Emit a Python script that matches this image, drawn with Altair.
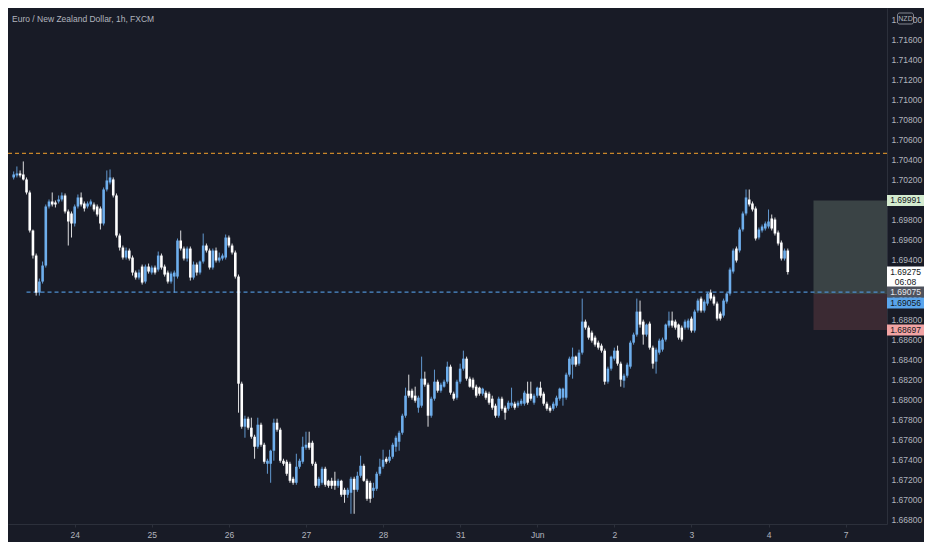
import altair as alt
import numpy as np
import pandas as pd

# EUR/NZD 1h bars left to right (bar 0 = left edge)
opens = [
    1.7022, 1.7024, 1.7026, 1.7025, 1.7020, 1.7007, 1.6969, 1.6944, 1.6907, 1.6918,
    1.6934, 1.6993, 1.6998, 1.6997, 1.6998, 1.7000, 1.7004, 1.6988, 1.6986, 1.6976,
    1.6993, 1.7002, 1.6996, 1.6993, 1.6995, 1.6995, 1.6993, 1.6991, 1.6976, 1.7010,
    1.7017, 1.7020, 1.7004, 1.6964, 1.6952, 1.6942, 1.6949, 1.6942, 1.6927, 1.6922,
    1.6933, 1.6918, 1.6933, 1.6927, 1.6932, 1.6930, 1.6944, 1.6933, 1.6927, 1.6918,
    1.6923, 1.6923, 1.6959, 1.6951, 1.6941, 1.6951, 1.6922, 1.6935, 1.6927, 1.6938,
    1.6954, 1.6949, 1.6932, 1.6949, 1.6939, 1.6941, 1.6942, 1.6962, 1.6954, 1.6947,
    1.6923, 1.6816, 1.6773, 1.6781, 1.6772, 1.6763, 1.6753, 1.6775, 1.6755, 1.6736,
    1.6736, 1.6749, 1.6777, 1.6770, 1.6739, 1.6738, 1.6736, 1.6721, 1.6717, 1.6733,
    1.6738, 1.6752, 1.6757, 1.6757, 1.6736, 1.6714, 1.6717, 1.6731, 1.6719, 1.6719,
    1.6719, 1.6714, 1.6719, 1.6710, 1.6705, 1.6707, 1.6721, 1.6710, 1.6724, 1.6734,
    1.6719, 1.6717, 1.6709, 1.6711, 1.6726, 1.6733, 1.6741, 1.6739, 1.6743, 1.6753,
    1.6758, 1.6767, 1.6784, 1.6809, 1.6809, 1.6804, 1.6792, 1.6794, 1.6821, 1.6815,
    1.6784, 1.6801, 1.6818, 1.6809, 1.6813, 1.6818, 1.6833, 1.6806, 1.6802, 1.6818,
    1.6831, 1.6841, 1.6821, 1.6820, 1.6813, 1.6812, 1.6806, 1.6807, 1.6806, 1.6801,
    1.6794, 1.6784, 1.6801, 1.6792, 1.6791, 1.6794, 1.6796, 1.6794, 1.6796, 1.6796,
    1.6806, 1.6806, 1.6797, 1.6804, 1.6812, 1.6806, 1.6796, 1.6792, 1.6791, 1.6794,
    1.6801, 1.6802, 1.6802, 1.6825, 1.6835, 1.6843, 1.6836, 1.6847, 1.6878, 1.6872,
    1.6867, 1.6862, 1.6857, 1.6854, 1.6849, 1.6818, 1.6831, 1.6841, 1.6849, 1.6836,
    1.6819, 1.6824, 1.6833, 1.6857, 1.6865, 1.6888, 1.6878, 1.6865, 1.6876, 1.6852,
    1.6838, 1.6847, 1.6850, 1.6860, 1.6874, 1.6879, 1.6878, 1.6875, 1.6872, 1.6872,
    1.6872, 1.6881, 1.6869, 1.6889, 1.6901, 1.6889, 1.6896, 1.6907, 1.6903, 1.6896,
    1.6886, 1.6884, 1.6898, 1.6906, 1.6928, 1.6951, 1.6949, 1.6970, 1.6986, 1.7000,
    1.6996, 1.6991, 1.6962, 1.6969, 1.6971, 1.6973, 1.6981, 1.6980, 1.6967, 1.6957,
    1.6941, 1.6949,
]
highs = [
    1.7028, 1.7033, 1.7029, 1.7038, 1.7022, 1.7009, 1.6970, 1.6946, 1.6921, 1.6938,
    1.6995, 1.7000, 1.7007, 1.6999, 1.7004, 1.7007, 1.7006, 1.6990, 1.6988, 1.6995,
    1.7005, 1.7007, 1.6998, 1.6998, 1.7000, 1.6997, 1.6995, 1.6993, 1.7012, 1.7029,
    1.7030, 1.7022, 1.7006, 1.6966, 1.6954, 1.6952, 1.6951, 1.6944, 1.6929, 1.6930,
    1.6935, 1.6935, 1.6936, 1.6934, 1.6934, 1.6948, 1.6946, 1.6935, 1.6929, 1.6928,
    1.6929, 1.6961, 1.6969, 1.6953, 1.6953, 1.6953, 1.6938, 1.6937, 1.6939, 1.6966,
    1.6956, 1.6951, 1.6951, 1.6952, 1.6947, 1.6946, 1.6965, 1.6964, 1.6956, 1.6949,
    1.6925, 1.6818, 1.6784, 1.6783, 1.6782, 1.6765, 1.6782, 1.6777, 1.6757, 1.6741,
    1.6750, 1.6781, 1.6781, 1.6772, 1.6741, 1.6740, 1.6738, 1.6723, 1.6746, 1.6741,
    1.6763, 1.6768, 1.6768, 1.6759, 1.6738, 1.6723, 1.6733, 1.6733, 1.6720, 1.6722,
    1.6728, 1.6721, 1.6720, 1.6712, 1.6712, 1.6723, 1.6723, 1.6728, 1.6744, 1.6736,
    1.6721, 1.6719, 1.6717, 1.6728, 1.6741, 1.6750, 1.6743, 1.6750, 1.6757, 1.6764,
    1.6769, 1.6786, 1.6812, 1.6825, 1.6811, 1.6813, 1.6804, 1.6843, 1.6828, 1.6817,
    1.6803, 1.6830, 1.6820, 1.6817, 1.6820, 1.6838, 1.6835, 1.6808, 1.6820, 1.6836,
    1.6849, 1.6843, 1.6823, 1.6822, 1.6815, 1.6813, 1.6812, 1.6809, 1.6808, 1.6804,
    1.6796, 1.6803, 1.6803, 1.6794, 1.6799, 1.6812, 1.6798, 1.6799, 1.6801, 1.6809,
    1.6818, 1.6818, 1.6806, 1.6813, 1.6818, 1.6808, 1.6798, 1.6794, 1.6798, 1.6804,
    1.6812, 1.6812, 1.6827, 1.6843, 1.6852, 1.6844, 1.6850, 1.6901, 1.6880, 1.6874,
    1.6869, 1.6864, 1.6859, 1.6856, 1.6851, 1.6833, 1.6844, 1.6852, 1.6854, 1.6838,
    1.6826, 1.6837, 1.6859, 1.6867, 1.6901, 1.6899, 1.6880, 1.6876, 1.6878, 1.6854,
    1.6852, 1.6861, 1.6862, 1.6876, 1.6888, 1.6888, 1.6880, 1.6876, 1.6874, 1.6880,
    1.6881, 1.6883, 1.6890, 1.6901, 1.6903, 1.6900, 1.6907, 1.6910, 1.6905, 1.6898,
    1.6888, 1.6901, 1.6907, 1.6932, 1.6951, 1.6953, 1.6972, 1.6988, 1.7010, 1.7010,
    1.6998, 1.6993, 1.6972, 1.6975, 1.6978, 1.6990, 1.6985, 1.6982, 1.6969, 1.6959,
    1.6951, 1.6951,
]
lows = [
    1.7020, 1.7022, 1.7022, 1.7019, 1.7005, 1.6967, 1.6941, 1.6904, 1.6904, 1.6916,
    1.6932, 1.6991, 1.6993, 1.6992, 1.6996, 1.6998, 1.6986, 1.6954, 1.6962, 1.6973,
    1.6991, 1.6993, 1.6988, 1.6991, 1.6993, 1.6988, 1.6983, 1.6970, 1.6974, 1.7008,
    1.7015, 1.7002, 1.6962, 1.6949, 1.6940, 1.6940, 1.6939, 1.6924, 1.6920, 1.6920,
    1.6915, 1.6916, 1.6926, 1.6925, 1.6925, 1.6928, 1.6930, 1.6923, 1.6916, 1.6916,
    1.6907, 1.6921, 1.6949, 1.6939, 1.6938, 1.6919, 1.6920, 1.6924, 1.6925, 1.6936,
    1.6947, 1.6930, 1.6930, 1.6937, 1.6937, 1.6939, 1.6940, 1.6952, 1.6945, 1.6921,
    1.6787, 1.6771, 1.6762, 1.6770, 1.6761, 1.6741, 1.6751, 1.6753, 1.6736, 1.6726,
    1.6717, 1.6739, 1.6768, 1.6737, 1.6734, 1.6724, 1.6717, 1.6715, 1.6715, 1.6731,
    1.6736, 1.6750, 1.6750, 1.6734, 1.6712, 1.6712, 1.6715, 1.6713, 1.6712, 1.6711,
    1.6710, 1.6712, 1.6703, 1.6697, 1.6702, 1.6686, 1.6686, 1.6708, 1.6722, 1.6718,
    1.6699, 1.6697, 1.6702, 1.6709, 1.6724, 1.6731, 1.6736, 1.6737, 1.6741, 1.6748,
    1.6749, 1.6765, 1.6782, 1.6802, 1.6800, 1.6797, 1.6787, 1.6792, 1.6813, 1.6773,
    1.6782, 1.6799, 1.6807, 1.6807, 1.6812, 1.6816, 1.6805, 1.6799, 1.6800, 1.6816,
    1.6829, 1.6819, 1.6812, 1.6810, 1.6802, 1.6804, 1.6804, 1.6800, 1.6795, 1.6790,
    1.6782, 1.6782, 1.6789, 1.6780, 1.6789, 1.6792, 1.6790, 1.6792, 1.6794, 1.6794,
    1.6795, 1.6799, 1.6795, 1.6802, 1.6802, 1.6794, 1.6789, 1.6787, 1.6789, 1.6792,
    1.6799, 1.6794, 1.6800, 1.6823, 1.6821, 1.6833, 1.6834, 1.6845, 1.6870, 1.6860,
    1.6857, 1.6853, 1.6850, 1.6847, 1.6815, 1.6816, 1.6829, 1.6839, 1.6834, 1.6813,
    1.6812, 1.6822, 1.6831, 1.6855, 1.6863, 1.6872, 1.6855, 1.6863, 1.6850, 1.6831,
    1.6826, 1.6845, 1.6848, 1.6858, 1.6872, 1.6872, 1.6870, 1.6860, 1.6858, 1.6870,
    1.6870, 1.6867, 1.6867, 1.6887, 1.6887, 1.6887, 1.6894, 1.6899, 1.6894, 1.6879,
    1.6879, 1.6882, 1.6896, 1.6904, 1.6926, 1.6937, 1.6947, 1.6968, 1.6984, 1.6993,
    1.6988, 1.6959, 1.6960, 1.6967, 1.6969, 1.6971, 1.6969, 1.6964, 1.6954, 1.6939,
    1.6939, 1.6925,
]
closes = [
    1.7025, 1.7026, 1.7024, 1.7020, 1.7007, 1.6969, 1.6944, 1.6907, 1.6918, 1.6934,
    1.6993, 1.6998, 1.6995, 1.6995, 1.7000, 1.7004, 1.6988, 1.6978, 1.6976, 1.6993,
    1.7002, 1.6995, 1.6991, 1.6996, 1.6998, 1.6990, 1.6985, 1.6976, 1.7010, 1.7019,
    1.7022, 1.7004, 1.6964, 1.6952, 1.6942, 1.6949, 1.6941, 1.6927, 1.6922, 1.6927,
    1.6917, 1.6933, 1.6928, 1.6932, 1.6927, 1.6944, 1.6932, 1.6925, 1.6918, 1.6926,
    1.6927, 1.6959, 1.6951, 1.6941, 1.6951, 1.6922, 1.6935, 1.6927, 1.6938, 1.6954,
    1.6949, 1.6932, 1.6949, 1.6939, 1.6942, 1.6944, 1.6962, 1.6954, 1.6947, 1.6923,
    1.6816, 1.6773, 1.6781, 1.6772, 1.6763, 1.6753, 1.6775, 1.6755, 1.6738, 1.6739,
    1.6749, 1.6777, 1.6770, 1.6739, 1.6736, 1.6726, 1.6719, 1.6717, 1.6733, 1.6739,
    1.6753, 1.6755, 1.6752, 1.6736, 1.6714, 1.6721, 1.6731, 1.6715, 1.6714, 1.6714,
    1.6714, 1.6719, 1.6705, 1.6705, 1.6710, 1.6721, 1.6710, 1.6724, 1.6734, 1.6719,
    1.6701, 1.6701, 1.6712, 1.6726, 1.6733, 1.6740, 1.6738, 1.6743, 1.6755, 1.6762,
    1.6767, 1.6784, 1.6804, 1.6804, 1.6802, 1.6799, 1.6802, 1.6821, 1.6815, 1.6784,
    1.6801, 1.6818, 1.6809, 1.6815, 1.6818, 1.6833, 1.6807, 1.6801, 1.6818, 1.6831,
    1.6841, 1.6821, 1.6813, 1.6812, 1.6804, 1.6806, 1.6811, 1.6802, 1.6797, 1.6792,
    1.6784, 1.6801, 1.6791, 1.6787, 1.6797, 1.6797, 1.6792, 1.6797, 1.6799, 1.6807,
    1.6797, 1.6801, 1.6804, 1.6812, 1.6804, 1.6796, 1.6791, 1.6789, 1.6796, 1.6802,
    1.6811, 1.6811, 1.6825, 1.6841, 1.6843, 1.6835, 1.6847, 1.6878, 1.6872, 1.6862,
    1.6859, 1.6855, 1.6852, 1.6849, 1.6818, 1.6831, 1.6843, 1.6849, 1.6836, 1.6820,
    1.6824, 1.6835, 1.6857, 1.6865, 1.6888, 1.6875, 1.6865, 1.6875, 1.6852, 1.6836,
    1.6850, 1.6859, 1.6860, 1.6875, 1.6879, 1.6874, 1.6872, 1.6862, 1.6860, 1.6878,
    1.6879, 1.6869, 1.6888, 1.6899, 1.6889, 1.6898, 1.6906, 1.6901, 1.6896, 1.6881,
    1.6881, 1.6899, 1.6906, 1.6930, 1.6949, 1.6939, 1.6970, 1.6986, 1.7002, 1.6995,
    1.6990, 1.6961, 1.6970, 1.6973, 1.6976, 1.6978, 1.6971, 1.6966, 1.6956, 1.6941,
    1.6949, 1.69275,
]

day_bars = [19, 43, 67, 91, 115, 139, 163, 187, 211, 235, 259]
day_labels = ["24", "25", "26", "27", "28", "31", "Jun", "2", "3", "4", "7"]
price_ticks = [
    1.668, 1.670, 1.672, 1.674, 1.676, 1.678, 1.680, 1.682, 1.684, 1.686, 1.688,
    1.690, 1.692, 1.694, 1.696, 1.698, 1.700, 1.702, 1.704, 1.706, 1.708, 1.710,
    1.712, 1.714, 1.716, 1.718,
]

resistance = 1.7046
support = 1.69075
support_from = 4

target = 1.69991
entry = 1.69056
stop = 1.68697
position_from = 249

last_price = 1.69275
countdown = "06:08"
title_text = "Euro / New Zealand Dollar, 1h, FXCM"
currency = "NZD"

BG = "#181b26"
TEXT = "#b2b5be"
BORDER = "#2c303b"
UP = "#6eaeec"
DOWN = "#ffffff"
FONT = "Liberation Sans Narrow, Liberation Sans, Arial, sans-serif"

W, H = 879, 516
AXIS_W = 37
X_DOMAIN = [-0.21, 270.33]
Y_DOMAIN = [1.66758, 1.71913]
TAG_X = W + AXIS_W / 2

label_expr = (
    " : ".join(f"datum.value == {b} ? '{t}'" for b, t in zip(day_bars, day_labels))
    + " : ''"
)


def xenc(field):
    return alt.X(
        f"{field}:Q",
        scale=alt.Scale(domain=X_DOMAIN, nice=False, zero=False),
        axis=alt.Axis(
            values=day_bars,
            labelExpr=label_expr,
            title=None,
            grid=False,
            labelFlush=False,
            labelOverlap=False,
            tickSize=3,
            labelPadding=3,
        ),
    )


def yenc(field):
    return alt.Y(
        f"{field}:Q",
        scale=alt.Scale(domain=Y_DOMAIN, nice=False, zero=False),
        axis=alt.Axis(
            orient="right",
            values=price_ticks,
            format=".5f",
            title=None,
            grid=False,
            ticks=False,
            labelFlush=False,
            labelOverlap=False,
            labelPadding=4,
        ),
    )


def box_shape(height, width=AXIS_W):
    half = height / width
    return f"M-1,{-half}L1,{-half}L1,{half}L-1,{half}Z"


def price_tag(price, fill, ink, shift=0):
    frame = pd.DataFrame({"price": [price], "text": [f"{price:.5f}"]})
    base = alt.Chart(frame)
    box = base.mark_point(
        shape=box_shape(11), size=AXIS_W * AXIS_W, filled=True, color=fill,
        opacity=1, strokeWidth=0, yOffset=shift,
    ).encode(x=alt.value(TAG_X), y=yenc("price"))
    txt = base.mark_text(
        color=ink, font=FONT, fontSize=8.5, align="center", baseline="middle",
        yOffset=shift,
    ).encode(x=alt.value(TAG_X), y=yenc("price"), text="text:N")
    return box + txt


candles = pd.DataFrame(
    {"bar": np.arange(len(opens)), "open": opens, "high": highs, "low": lows, "close": closes}
)
candles["dir"] = np.where(candles["close"] >= candles["open"], "up", "down")
candle_color = alt.Color(
    "dir:N", scale=alt.Scale(domain=["up", "down"], range=[UP, DOWN]), legend=None
)

wicks = alt.Chart(candles).mark_rule(strokeWidth=1, opacity=0.85).encode(
    x=xenc("bar"), y=yenc("low"), y2="high:Q", color=candle_color
)
bodies = alt.Chart(candles).mark_bar(size=2.6).encode(
    x=xenc("bar"), y=yenc("open"), y2="close:Q", color=candle_color
)

profit = alt.Chart(
    pd.DataFrame({"bar": [position_from], "top": [target], "bottom": [entry]})
).mark_rect(color="#3a4345").encode(
    x=xenc("bar"), x2=alt.value(W), y=yenc("top"), y2="bottom:Q"
)
loss = alt.Chart(
    pd.DataFrame({"bar": [position_from], "top": [entry], "bottom": [stop]})
).mark_rect(color="#3b2a33").encode(
    x=xenc("bar"), x2=alt.value(W), y=yenc("top"), y2="bottom:Q"
)

res_line = alt.Chart(pd.DataFrame({"price": [resistance]})).mark_rule(
    color="#c8862a", strokeDash=[4, 3], strokeWidth=1.2
).encode(y=yenc("price"))

sup_line = alt.Chart(pd.DataFrame({"bar": [support_from], "price": [support]})).mark_rule(
    color="#4d8fcf", strokeDash=[4, 3], strokeWidth=1.1
).encode(x=xenc("bar"), x2=alt.value(W), y=yenc("price"))

# last price tag with the bar countdown underneath
last_frame = pd.DataFrame(
    {"price": [last_price], "text": [f"{last_price:.5f}"], "clock": [countdown]}
)
last_base = alt.Chart(last_frame)
last_box = last_base.mark_point(
    shape=box_shape(21), size=AXIS_W * AXIS_W, filled=True, color="#ffffff",
    opacity=1, strokeWidth=0, yOffset=5,
).encode(x=alt.value(TAG_X), y=yenc("price"))
last_txt = last_base.mark_text(
    color="#131722", font=FONT, fontSize=8.5, align="center", baseline="middle"
).encode(x=alt.value(TAG_X), y=yenc("price"), text="text:N")
last_clock = last_base.mark_text(
    color="#131722", font=FONT, fontSize=8.5, align="center", baseline="middle",
    yOffset=10,
).encode(x=alt.value(TAG_X), y=yenc("price"), text="clock:N")

tags = [
    price_tag(target, "#d4ebcf", "#131722"),
    price_tag(support, "#4e525d", "#e6e8ee"),
    price_tag(entry, "#5aa5ec", "#131722", shift=9),
    price_tag(stop, "#f2a3a3", "#131722"),
]

title = alt.Chart(pd.DataFrame({"text": [title_text]})).mark_text(
    align="left", baseline="middle", color=TEXT, font=FONT, fontSize=8.5
).encode(x=alt.value(4), y=alt.value(11), text="text:N")

badge_frame = pd.DataFrame({"text": [currency]})
badge_box = alt.Chart(badge_frame).mark_rect(
    fill=BG, stroke=TEXT, strokeWidth=0.7, cornerRadius=2
).encode(
    x=alt.value(TAG_X - 8), x2=alt.value(TAG_X + 8), y=alt.value(5), y2=alt.value(16)
)
badge_txt = alt.Chart(badge_frame).mark_text(
    color=TEXT, font=FONT, fontSize=7, align="center", baseline="middle"
).encode(x=alt.value(TAG_X), y=alt.value(10.5), text="text:N")

chart = (
    alt.layer(
        profit, loss, res_line, sup_line, wicks, bodies,
        last_box, last_txt, last_clock, *tags,
        title, badge_box, badge_txt,
    )
    .properties(
        width=W,
        height=H,
        autosize=alt.AutoSizeParams(type="none"),
        padding={"left": 0, "top": 0, "right": AXIS_W, "bottom": 18},
        background=BG,
    )
    .configure_view(strokeWidth=0)
    .configure_axis(
        domainColor=BORDER,
        tickColor=BORDER,
        labelColor=TEXT,
        labelFont=FONT,
        labelFontSize=8.5,
    )
)

chart.save("out.html", embed_options={"renderer": "svg", "actions": False})
